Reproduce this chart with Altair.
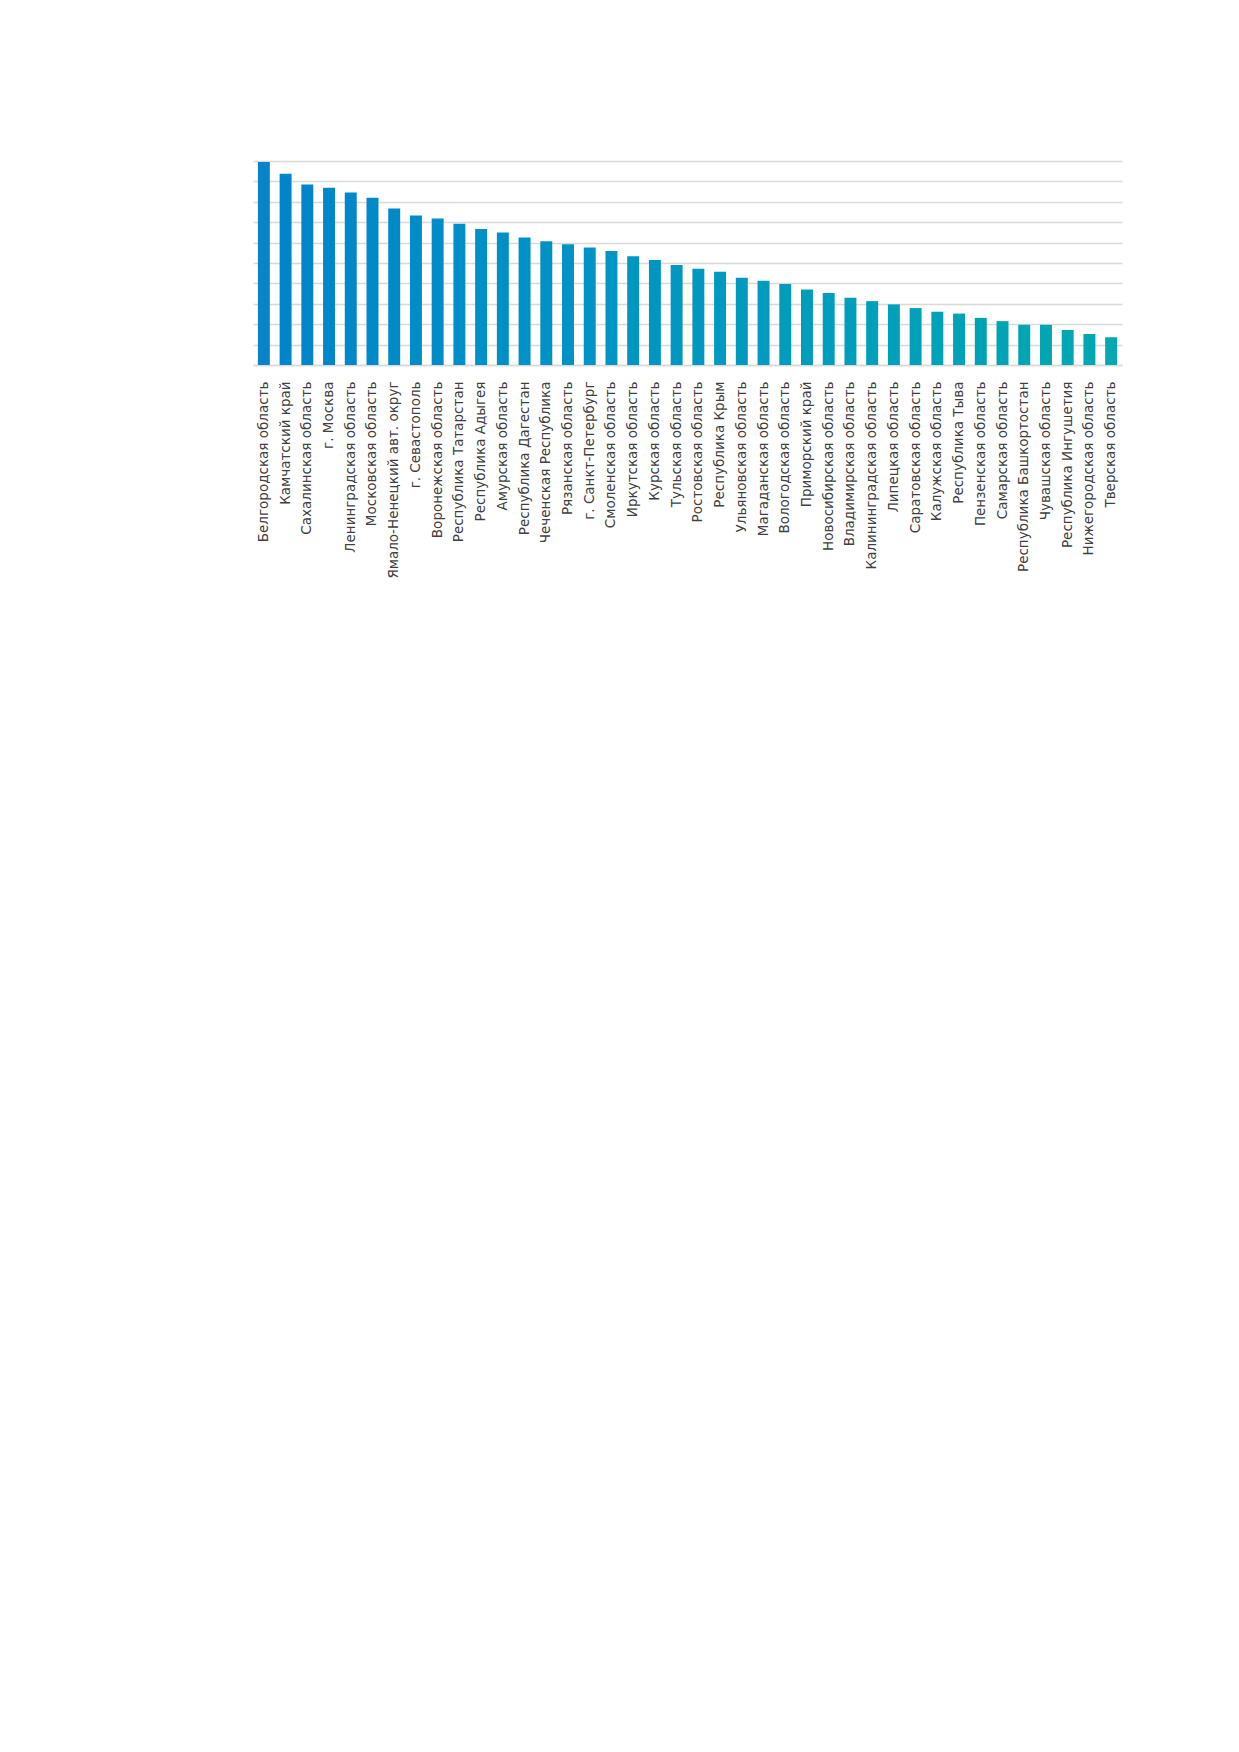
import altair as alt
import pandas as pd

regions = [
    "Белгородская область", "Камчатский край", "Сахалинская область", "г. Москва",
    "Ленинградская область", "Московская область", "Ямало-Ненецкий авт. округ",
    "г. Севастополь", "Воронежская область", "Республика Татарстан", "Республика Адыгея",
    "Амурская область", "Республика Дагестан", "Чеченская Республика", "Рязанская область",
    "г. Санкт-Петербург", "Смоленская область", "Иркутская область", "Курская область",
    "Тульская область", "Ростовская область", "Республика Крым", "Ульяновская область",
    "Магаданская область", "Вологодская область", "Приморский край",
    "Новосибирская область", "Владимирская область", "Калининградская область",
    "Липецкая область", "Саратовская область", "Калужская область", "Республика Тыва",
    "Пензенская область", "Самарская область", "Республика Башкортостан",
    "Чувашская область", "Республика Ингушетия", "Нижегородская область",
    "Тверская область",
]
values = [
    99.5, 93.8, 88.5, 86.9, 84.5, 82.0, 76.7, 73.3, 71.8, 69.2,
    66.7, 64.9, 62.5, 60.7, 59.2, 57.6, 55.9, 53.3, 51.5, 49.0,
    47.2, 45.7, 42.8, 41.3, 39.7, 37.0, 35.3, 33.0, 31.3, 29.7,
    27.9, 26.1, 25.2, 23.1, 21.5, 19.7, 19.7, 17.2, 15.2, 13.6,
]
order = list(range(len(regions)))

df = pd.DataFrame({"region": regions, "value": values, "order": order})

chart = (
    alt.Chart(df)
    .mark_bar()
    .encode(
        x=alt.X(
            "region:N",
            sort=regions,
            scale=alt.Scale(paddingInner=0.45, paddingOuter=0.225),
            axis=alt.Axis(
                title=None,
                labelAngle=-90,
                labelFont="DejaVu Sans",
                labelFontSize=13.5,
                labelColor="#404040",
                labelPadding=16,
                labelLimit=400,
                ticks=False,
                domain=True,
                domainColor="#d9d9d9",
                domainWidth=1.5,
                grid=False,
            ),
        ),
        y=alt.Y(
            "value:Q",
            scale=alt.Scale(domain=[0, 100], nice=False),
            axis=alt.Axis(
                title=None,
                labels=False,
                ticks=False,
                domain=False,
                values=[0, 10, 20, 30, 40, 50, 60, 70, 80, 90, 100],
                grid=True,
                gridColor="#d9d9d9",
                gridWidth=1.5,
            ),
        ),
        color=alt.Color(
            "order:Q",
            scale=alt.Scale(domain=[0, 39], range=["#0984c9", "#05a8b0"]),
            legend=None,
        ),
    )
    .properties(
        width=869,
        height=204,
        padding={"left": 245, "top": 153, "right": 10, "bottom": 10},
        background="white",
    )
    .configure_view(stroke=None)
)

chart.save("out.html", embed_options={"renderer": "svg", "actions": False})
